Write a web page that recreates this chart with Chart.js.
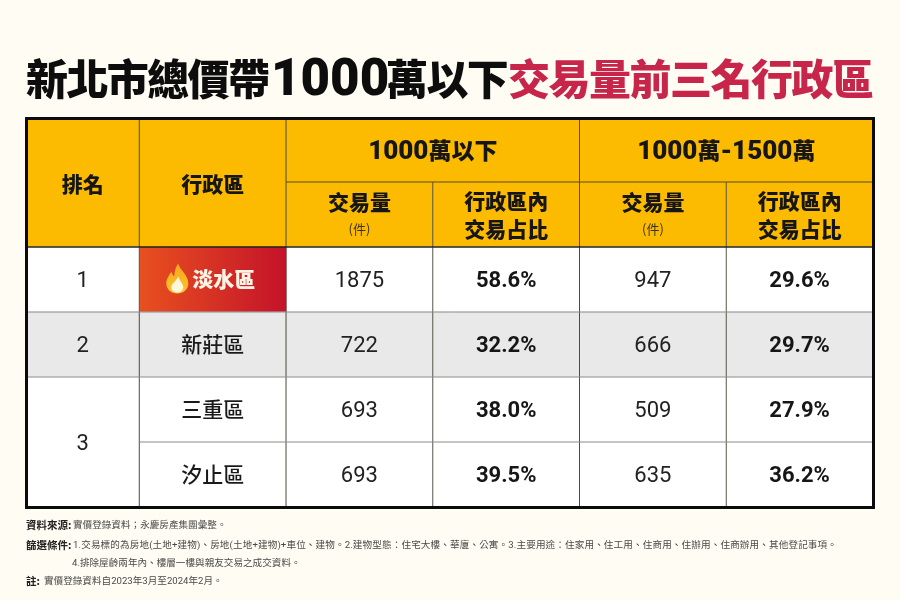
<!DOCTYPE html>
<html><head><meta charset="utf-8">
<style>html,body{margin:0;padding:0;background:#fffdf3}canvas{display:block}</style>
<script src="https://cdn.jsdelivr.net/npm/chart.js@4"></script>
</head><body><canvas id="c" width="900" height="600"></canvas>
<script>
const ranks = ['1','2','3','3'];
const districts = ['淡水區','新莊區','三重區','汐止區'];
const volumeUnder1000 = [1875,722,693,693];
const shareUnder1000 = [58.6,32.2,38.0,39.5];
const volume1000to1500 = [947,666,509,635];
const share1000to1500 = [29.6,29.7,27.9,36.2];
const groupHeaders = ['1000萬以下','1000萬-1500萬'];
const rowHeaders = ['排名','行政區'];
const subHeaderVolume = ['交易量','(件)'];
const subHeaderShare = ['行政區內','交易占比'];
const titleBlack = '新北市總價帶1000萬以下';
const titleRed = '交易量前三名行政區';
const notes = [
 ['資料來源:','實價登錄資料；永慶房產集團彙整。'],
 ['篩選條件:','1.交易標的為房地(土地+建物)、房地(土地+建物)+車位、建物。2.建物型態：住宅大樓、華廈、公寓。3.主要用途：住家用、住工用、住商用、住辦用、住商辦用、其他登記事項。'],
 ['','4.排除屋齡兩年內、樓層一樓與親友交易之成交資料。'],
 ['註:','實價登錄資料自2023年3月至2024年2月。']
];
const rowKeys = ['head1','head2','r1','r2','r3','r4'];
const colUnits = [0.772,1,1,1,1,1];

const CJK = '"Noto Sans CJK TC"';
const LAT = 'Roboto,"Noto Sans CJK TC"';
const HEAD = '#fdbb00', INK = '#161616', GREY = '#e9e9e9';
function cellColor(ctx, col){
  const r = ctx.dataIndex;
  if (r < 2) return HEAD;
  if (r === 2 && col === 1) {
    const a = ctx.chart.chartArea; if (!a) return '#d0311f';
    const s = ctx.chart.scales.x;
    const g = ctx.chart.ctx.createLinearGradient(s.getPixelForValue(colUnits[0]),0,s.getPixelForValue(colUnits[0]+1),0);
    g.addColorStop(0,'#e8501f'); g.addColorStop(1,'#c4132a'); return g;
  }
  return r === 3 ? GREY : '#ffffff';
}
const datasets = colUnits.map((u,col)=>({
  label:'col'+col,
  data: rowKeys.map(()=>u),
  backgroundColor: c=>cellColor(c,col),
  borderWidth:0, barPercentage:1, categoryPercentage:1, stack:'t'
}));

function txt(c,s,x,y,font,color,align,spacing){
  c.font=font; c.fillStyle=color; c.textAlign=align||'center'; c.textBaseline='middle';
  c.letterSpacing=(spacing||0)+'px'; c.fillText(s,x,y); c.letterSpacing='0px';
}
// text with separate Latin and CJK fonts, centred on x
function mixed(c,s,x,y,latFont,cjkFont,color){
  const runs=s.match(/[\x00-\x7f]+|[^\x00-\x7f]+/g);
  c.textBaseline='middle';c.textAlign='left';c.fillStyle=color;
  const isLat=r=>/^[\x00-\x7f]/.test(r);
  const fontOf=r=>isLat(r)?latFont:cjkFont;
  let w=0;runs.forEach(r=>{c.font=fontOf(r);w+=c.measureText(r).width;});
  let p=x-w/2;
  runs.forEach(r=>{c.font=fontOf(r);c.fillText(r,p,isLat(r)?y+2:y);p+=c.measureText(r).width;});
}
function flame(c,x,y){
  c.save(); c.translate(x,y);
  let p=new Path2D('M1-15C2-9 11-4 11 5C11 11 6 15 0 15C-6 15-11 11-11 5C-11 0-8-3-6-7C-5-4-4-3-3-2C-3-7-2-11 1-15Z');
  let g=c.createLinearGradient(0,-15,0,15); g.addColorStop(0,'#f7a51d'); g.addColorStop(1,'#fdc52a');
  c.fillStyle=g; c.fill(p);
  c.fillStyle='#fff6dc'; c.fill(new Path2D('M1-2C2 2 6 5 6 9C6 12 3 14 0 14C-3 14-6 12-6 9C-6 5-2 4 1-2Z'));
  c.restore();
}
const tablePlugin={id:'table',
 beforeDraw(ch){const c=ch.ctx;c.fillStyle='#fffdf3';c.fillRect(0,0,900,600);},
 afterDatasetsDraw(ch){
  const c=ch.ctx,X=ch.scales.x,Y=ch.scales.y;
  const edges=[0];colUnits.forEach(u=>edges.push(edges[edges.length-1]+u));
  const ex=edges.map(e=>X.getPixelForValue(e));
  const rh=Y.getPixelForValue(1)-Y.getPixelForValue(0);
  const rowTop=i=>Y.getPixelForValue(i)-rh/2;
  const rowMid=i=>Y.getPixelForValue(i);
  const mid=(a,b)=>(ex[a]+ex[b])/2;
  const L=ex[0],R=ex[6],T=rowTop(0),B=rowTop(6);
  c.save();
  function line(x1,y1,x2,y2,col,w){c.strokeStyle=col;c.lineWidth=w;c.beginPath();c.moveTo(x1,y1);c.lineTo(x2,y2);c.stroke();}
  [1,2,4].forEach(i=>line(ex[i],T,ex[i],B,'#4a4a3c',1));
  [3,5].forEach(i=>line(ex[i],rowTop(1),ex[i],B,'#55554a',1));
  line(ex[2],rowTop(1),R,rowTop(1),'#5a4a10',1);
  line(L,rowTop(2),R,rowTop(2),'#222',1.5);
  line(L,rowTop(3),R,rowTop(3),'#8a8a8a',1);
  line(L,rowTop(4),R,rowTop(4),'#8a8a8a',1);
  line(ex[1],rowTop(5),R,rowTop(5),'#8a8a8a',1);
  c.strokeStyle='#0b0b0b';c.lineWidth=3;c.strokeRect(L+0.5,T+1.5,R-L,B-T-1);
  // title
  const tf='900 42px '+CJK, K='#0d0d0d';
  txt(c,'新北市總價帶',26,79,tf,K,'left',-1.6);
  const m=titleBlack.match(/^(.*?)(\d+)(.*)$/);
  txt(c,m[2],271,82,'900 51px Roboto',K,'left',0);
  txt(c,m[3],386,79,tf,K,'left',-1.6);
  txt(c,titleRed,508,79,tf,'#c7254a','left',-1.5);
  // headers
  const hf='900 21px '+CJK;
  txt(c,rowHeaders[0],mid(0,1),184,hf,INK);
  txt(c,rowHeaders[1],mid(1,2),184,hf,INK);
  const gy=rowMid(0)+1;
  const gl='900 26px Roboto', gc='900 23px '+CJK;
  mixed(c,groupHeaders[0],mid(2,4),gy,gl,gc,INK);
  mixed(c,groupHeaders[1],mid(4,6),gy,gl,gc,INK);
  [2,4].forEach(i=>{
    txt(c,subHeaderVolume[0],mid(i,i+1),202,hf,INK);
    txt(c,subHeaderVolume[1],mid(i,i+1),229,'400 13px '+CJK,'#3a3320');
    txt(c,subHeaderShare[0],mid(i+1,i+2),201,hf,INK);
    txt(c,subHeaderShare[1],mid(i+1,i+2),229,hf,INK);
  });
  // body
  const nf='400 22px '+LAT, bf='700 22px '+LAT, df='500 21px '+CJK;
  districts.forEach((d,i)=>{
    const y=rowMid(i+2), ny=y+2;
    if(i<2) txt(c,ranks[i],mid(0,1),ny,nf,'#222');
    if(i===0){
      flame(c,ex[1]+38,y-1);
      txt(c,d,mid(1,2)+11,y,'900 21px '+CJK,'#fff3e6');
    } else txt(c,d,mid(1,2),y,df,'#1a1a1a');
    txt(c,String(volumeUnder1000[i]),mid(2,3),ny,nf,'#222');
    txt(c,shareUnder1000[i].toFixed(1)+'%',mid(3,4),ny,bf,INK);
    txt(c,String(volume1000to1500[i]),mid(4,5),ny,nf,'#222');
    txt(c,share1000to1500[i].toFixed(1)+'%',mid(5,6),ny,bf,INK);
  });
  txt(c,ranks[2],mid(0,1),rowTop(5)+2,nf,'#222');
  // notes
  const ys=[525,545,563,581], xs=[73,73,72,44];
  notes.forEach((n,i)=>{
    if(n[0]) txt(c,n[0],26,ys[i],'700 10.5px '+CJK,'#222','left');
    txt(c,n[1],xs[i],ys[i]+1,'400 9.6px '+LAT,'#4a4a4a','left',i===1?0.12:0);
  });
  c.restore();
 }
};
new Chart(document.getElementById('c'),{
 type:'bar',
 data:{labels:rowKeys,datasets},
 plugins:[tablePlugin],
 options:{
  indexAxis:'y',responsive:false,animation:false,devicePixelRatio:1,
  layout:{padding:{left:26,right:27,top:117,bottom:93}},
  plugins:{legend:{display:false},title:{display:false},tooltip:{enabled:false}},
  scales:{
   x:{display:false,stacked:true,min:0,max:colUnits.reduce((a,b)=>a+b,0)},
   y:{display:false,stacked:true}
  }
 }
});
</script></body></html>
